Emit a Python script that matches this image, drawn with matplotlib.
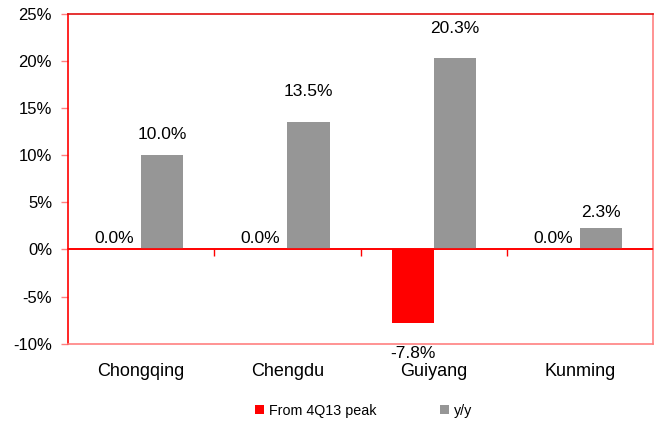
import matplotlib
matplotlib.use("Agg")
import matplotlib.pyplot as plt
import numpy as np
from matplotlib.ticker import FuncFormatter

plt.rcParams["font.family"] = ["Liberation Sans", "DejaVu Sans"]

cities = ["Chongqing", "Chengdu", "Guiyang", "Kunming"]
from_peak = [0.0, 0.0, -7.8, 0.0]
yoy = [10.0, 13.5, 20.3, 2.3]
series_names = ["From 4Q13 peak", "y/y"]

RED, PINK, GREY = "#ff0000", "#ff8080", "#969696"
YMIN, YMAX = -10, 25

fig = plt.figure(figsize=(6.54, 4.25), dpi=100)
ax = fig.add_axes([0.104, 0.191, 0.8945, 0.777])

x = np.arange(len(cities))
w = 0.288
b1 = ax.bar(x - w / 2, from_peak, w, color=RED, label=series_names[0], zorder=2)
b2 = ax.bar(x + w / 2, yoy, w, color=GREY, label=series_names[1], zorder=2)

# data labels (Excel-style placement, offsets in points)
for bars, vals, offs in [(b1, from_peak, [8, 8, -22, 8]), (b2, yoy, [15, 22, 21, 11])]:
    for bar, v, o in zip(bars, vals, offs):
        ax.annotate(f"{v:.1f}%", (bar.get_x() + bar.get_width() / 2 - (0.04 if v == 0 else 0), v),
                    xytext=(0, o), textcoords="offset points", ha="center", va="center",
                    fontsize=12.5, color="black", annotation_clip=False)

ax.set_xlim(-0.5, len(cities) - 0.5)
ax.set_ylim(YMIN, YMAX)
ax.set_yticks(np.arange(YMIN, YMAX + 1, 5))
ax.yaxis.set_major_formatter(FuncFormatter(lambda v, _: f"{v:.0f}%"))
ax.tick_params(axis="y", direction="out", length=5, width=1, color=PINK, pad=6.5, labelsize=12)
ax.set_xticks(x)
ax.set_xticklabels(cities)
ax.tick_params(axis="x", length=0, pad=14, labelsize=13)

ax.spines["left"].set_color(RED)
ax.spines["top"].set_color("#e01010")
ax.spines["right"].set_color(PINK)
ax.spines["bottom"].set_color(PINK)
for s in ax.spines.values():
    s.set_linewidth(1.2)

# category axis crossing at zero, with tick marks between groups
ax.axhline(0, color=RED, lw=1.2, zorder=3)
zero = ax.secondary_xaxis((0 - YMIN) / (YMAX - YMIN))
zero.set_xticks(np.arange(0.5, len(cities) - 1, 1.0))
zero.set_xticklabels([])
zero.tick_params(direction="out", length=5, width=1, color=RED)
zero.spines["bottom"].set_color(RED)
zero.spines["bottom"].set_linewidth(1.2)

fig.legend(loc="center", bbox_to_anchor=(0.556, 0.033), ncol=2, frameon=False, fontsize=10.3,
           handlelength=0.6, handleheight=0.6, handletextpad=0.35, columnspacing=4.5)

fig.savefig("out.png", dpi=100)
